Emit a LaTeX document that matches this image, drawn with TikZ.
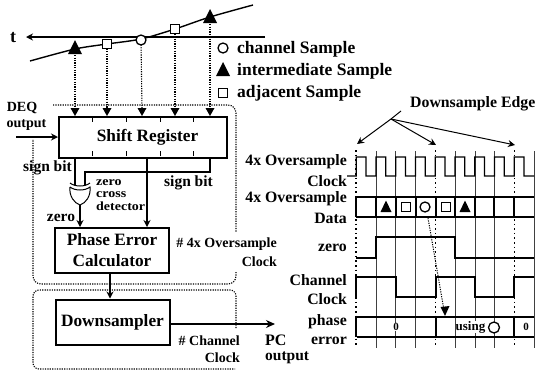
\documentclass[tikz,border=0pt]{standalone}
\usepackage{fontspec}
\setmainfont{Liberation Serif}
\usetikzlibrary{arrows.meta,calc}
\tikzset{
  txt/.style={inner sep=0pt,font=\fontsize{15.8}{15.8}\selectfont\bfseries},
  legend/.style={inner sep=0pt,anchor=west,font=\fontsize{17.5}{17.5}\selectfont\bfseries},
  small/.style={inner sep=0pt,font=\fontsize{14}{14}\selectfont\bfseries},
  tiny/.style={inner sep=0pt,anchor=west,font=\fontsize{12.5}{12.5}\selectfont\bfseries},
  sgnl/.style={inner sep=0pt,font=\fontsize{15.5}{15.5}\selectfont\bfseries},
  block/.style={draw,line width=2pt,inner sep=0pt,font=\fontsize{17.3}{21}\selectfont\bfseries,align=center},
  wire/.style={line width=1.3pt},
  arr/.style={line width=1.3pt,-{Stealth[length=7pt,width=7pt]}},
  dotl/.style={line width=1.1pt,dash pattern=on 1.2pt off 1.2pt},
  grid/.style={line width=0.5pt,black!75},
  sig/.style={line width=1.2pt},
}
\newcommand{\tria}[2]{\fill ($(#1,#2)+(0,-8)$) -- ($(#1,#2)+(-7,6)$) -- ($(#1,#2)+(7,6)$) -- cycle;}
\newcommand{\trib}[2]{\fill ($(#1,#2)+(0,-6.5)$) -- ($(#1,#2)+(-5.5,5)$) -- ($(#1,#2)+(5.5,5)$) -- cycle;}
\newcommand{\squa}[2]{\draw[line width=1.3pt,fill=white] ($(#1,#2)+(-4.5,-4.5)$) rectangle ($(#1,#2)+(4.5,4.5)$);}
\newcommand{\circl}[2]{\draw[line width=1.3pt,fill=white] (#1,#2) circle (5);}
\begin{document}
\begin{tikzpicture}[x=1pt,y=-1pt]
\useasboundingbox (0,0) rectangle (535,370);
% time axis
\node[inner sep=0pt,font=\fontsize{18}{18}\selectfont\bfseries] (t) at (13,38) {t};
\coordinate (axr) at (265,37);
\coordinate (axl) at (26,37);
\draw[arr] (axr) -- (axl);
\draw[line width=1.4pt] plot[smooth] coordinates {(30,61) (75,49) (107,44) (141,39) (175,29) (210,17) (253,5)};
% sampling markers
\coordinate (m1) at (75,48);
\coordinate (m2) at (107,44);
\coordinate (m3) at (141,40);
\coordinate (m4) at (175,29);
\coordinate (m5) at (210,17);
% blocks
\node[block,minimum width=168pt,minimum height=41pt] (sr) at (143,137) {\hspace{9pt}\raisebox{-2pt}{Shift Register}};
\node[block,minimum width=114pt,minimum height=45pt] (pe) at (112,250.5) {Phase Error\\Calculator};
\node[block,minimum width=114pt,minimum height=45pt] (ds) at (112.5,322) {Downsampler};
% dotted links
\foreach \m/\x in {m1/75,m2/107,m3/142,m4/175,m5/210}{
  \draw[dotl] (\m) -- (\x,109);
  \fill (\x-4.5,108) -- (\x+4.5,108) -- (\x,116) -- cycle;
}
\tria{75}{48}
\squa{107}{44}
\circl{141}{40}
\squa{175}{29}
\tria{210}{17}
% ticks on shift register
\foreach \x in {92,126,160,193}{
  \draw[line width=1pt] (\x,117) -- (\x,122);
  \draw[line width=1pt] (\x,156) -- (\x,151);
}
% legend
\circl{223}{48}
\tria{223}{70}
\squa{223}{93}
\node[legend] (l1) at (237,49) {channel Sample};
\node[legend] (l2) at (237,71) {intermediate Sample};
\node[legend] (l3) at (237,93) {adjacent Sample};
% dotted enclosures
\draw[dotl,rounded corners=8pt] (53,105) -- (236,105) -- (236,232);
\draw[dotl,rounded corners=8pt] (236,272) -- (236,284) -- (33,284) -- (33,139);
\draw[dotl,rounded corners=6pt] (236,328) -- (236,290) -- (33,290) -- (33,369) -- (235,369);
% DEQ
\node[small] (deq) at (22,108) {DEQ};
\node[small] (outp) at (26.5,125) {output};
\coordinate (in) at (16,137);
\draw[arr] (in) -- (sr.west |- in);
% gate
\coordinate (ga) at (75,185);
\coordinate (gb) at (85,185);
\coordinate (gy) at (80,205);
\draw[wire] (sr.south -| ga) -- (ga);
\draw[wire] (210,157) -- (210,172) -- (85,172) -- (gb);
\draw[line width=1pt] (70,187) .. controls (75,191) and (85,191) .. (90,187) .. controls (91,196) and (86,203) .. (gy) .. controls (74,203) and (69,196) .. (70,187);
\draw[line width=1pt] (70,183) .. controls (75,187) and (85,187) .. (90,183);
\draw[arr] (gy) -- (gy |- pe.north);
\draw[arr] (sr.south -| 147,0) -- (147,227);
\node[sgnl] (sgn) at (47.5,167.5) {sign bit};
\node[sgnl] (sgn2) at (188.5,183) {sign bit};
\node[tiny] (z1) at (96,183) {\scalebox{1.12}[1]{zero}};
\node[tiny] (z2) at (96,194.5) {\scalebox{1.12}[1]{cross}};
\node[tiny] (z3) at (96,206) {\scalebox{1.12}[1]{detector}};
\node[sgnl] (zr) at (61,218) {zero};
% between blocks
\draw[line width=1.8pt,-{Stealth[length=7pt,width=7pt]}] (pe.south -| 110,0) -- (ds.north -| 110,0);
\coordinate (pco) at (275,324);
\draw[line width=1.4pt,-{Stealth[length=9pt,width=8pt]}] (ds.east |- pco) -- (pco);
\node[sgnl,anchor=west,font=\fontsize{16}{16}\selectfont\bfseries] (pc) at (265,340) {PC};
\node[sgnl,anchor=west] (pco2) at (265,358) {output};
\node[small,anchor=east] (f1) at (277,244) {\# 4x Oversample};
\node[small,anchor=east] (f2) at (277,262) {Clock};
\node[small,anchor=east] (c1) at (240,341) {\# Channel};
\node[small,anchor=east] (c2) at (240,358) {Clock};
% timing labels
\foreach \n/\y/\s in {a/162/4x Oversample,b/181/Clock,c/199/4x Oversample,d/218/Data,e/248/zero,f/280/Channel,g/299/Clock,h/322/phase,i/341/error}{
  \node[txt,anchor=east] (lab\n) at (347,\y) {\s};
}
% downsample edge
\node[txt,anchor=west] (dse) at (410,104) {Downsample Edge};
\coordinate (hub) at (391,119);
\coordinate (e1) at (357,144);
\coordinate (e2) at (436,145);
\coordinate (e3) at (515,145);
\coordinate (hub0) at (401,111);
\draw[line width=1pt] (hub0) -- (hub);
\foreach \e in {e1,e2,e3}\draw[line width=1pt,-{Stealth[length=7pt,width=7pt]}] (hub) -- (\e);
% grid
\foreach \x in {376,395.5,415,455,475,494,534}\draw[grid] (\x,151) -- (\x,348);
\foreach \x in {356,435.5,514.5}\draw[line width=1.4pt,dash pattern=on 1.6pt off 3pt] (\x,150) -- (\x,345);
% clock
\draw[sig] (347,176) -- (356.2,176)
 \foreach \i in {0,...,8}{ -- ({356.2+19.75*\i},157) -- ({366+19.75*\i},157) -- ({366+19.75*\i},176) -- ({376+19.75*\i},176)};
% data bus
\draw[line width=1.5pt] (356,197) -- (534,197) (356,217) -- (534,217);
\foreach \x in {356,376,396,416,436,455,475,494,514}\draw[line width=1.8pt] (\x,197) -- (\x,217);
\trib{386}{207}
\squa{406}{207}
\circl{425}{207}
\squa{446}{207}
\trib{465}{207}
% zero
\draw[sig] (356,258) -- (376,258) -- (376,237) -- (455,237) -- (455,258) -- (534,258);
% channel clock
\draw[sig] (356,297) -- (356,277) -- (396,277) -- (396,297) -- (436,297) -- (436,277) -- (475,277) -- (475,297) -- (514,297) -- (514,277) -- (534,277);
% phase error
\draw[sig] (357,317) -- (534,317) (357,337) -- (534,337);
\foreach \x in {356,436,514}\draw[line width=1.8pt] (\x,317) -- (\x,337);
\node[inner sep=0.5pt,fill=white,font=\fontsize{11}{11}\selectfont\bfseries] (p0) at (396,327) {0};
\node[inner sep=0.5pt,fill=white,font=\fontsize{11}{11}\selectfont\bfseries] (p1) at (526,327) {0};
\node[inner sep=0pt,fill=white,font=\fontsize{13}{13}\selectfont\bfseries] (use) at (470.5,327) {using};
\draw[line width=1.3pt,fill=white] (494,327.5) circle (5.5);
% causal dotted arrow
\coordinate (ca) at (428,218);
\coordinate (cb) at (445,316);
\draw[line width=1pt,dash pattern=on 1.2pt off 1.2pt] (ca) -- ($(cb)!8pt!(ca)$);
\fill ($(cb)+(-4.5,-9)$) -- ($(cb)+(4.5,-10)$) -- (cb) -- cycle;
\end{tikzpicture}
\end{document}
